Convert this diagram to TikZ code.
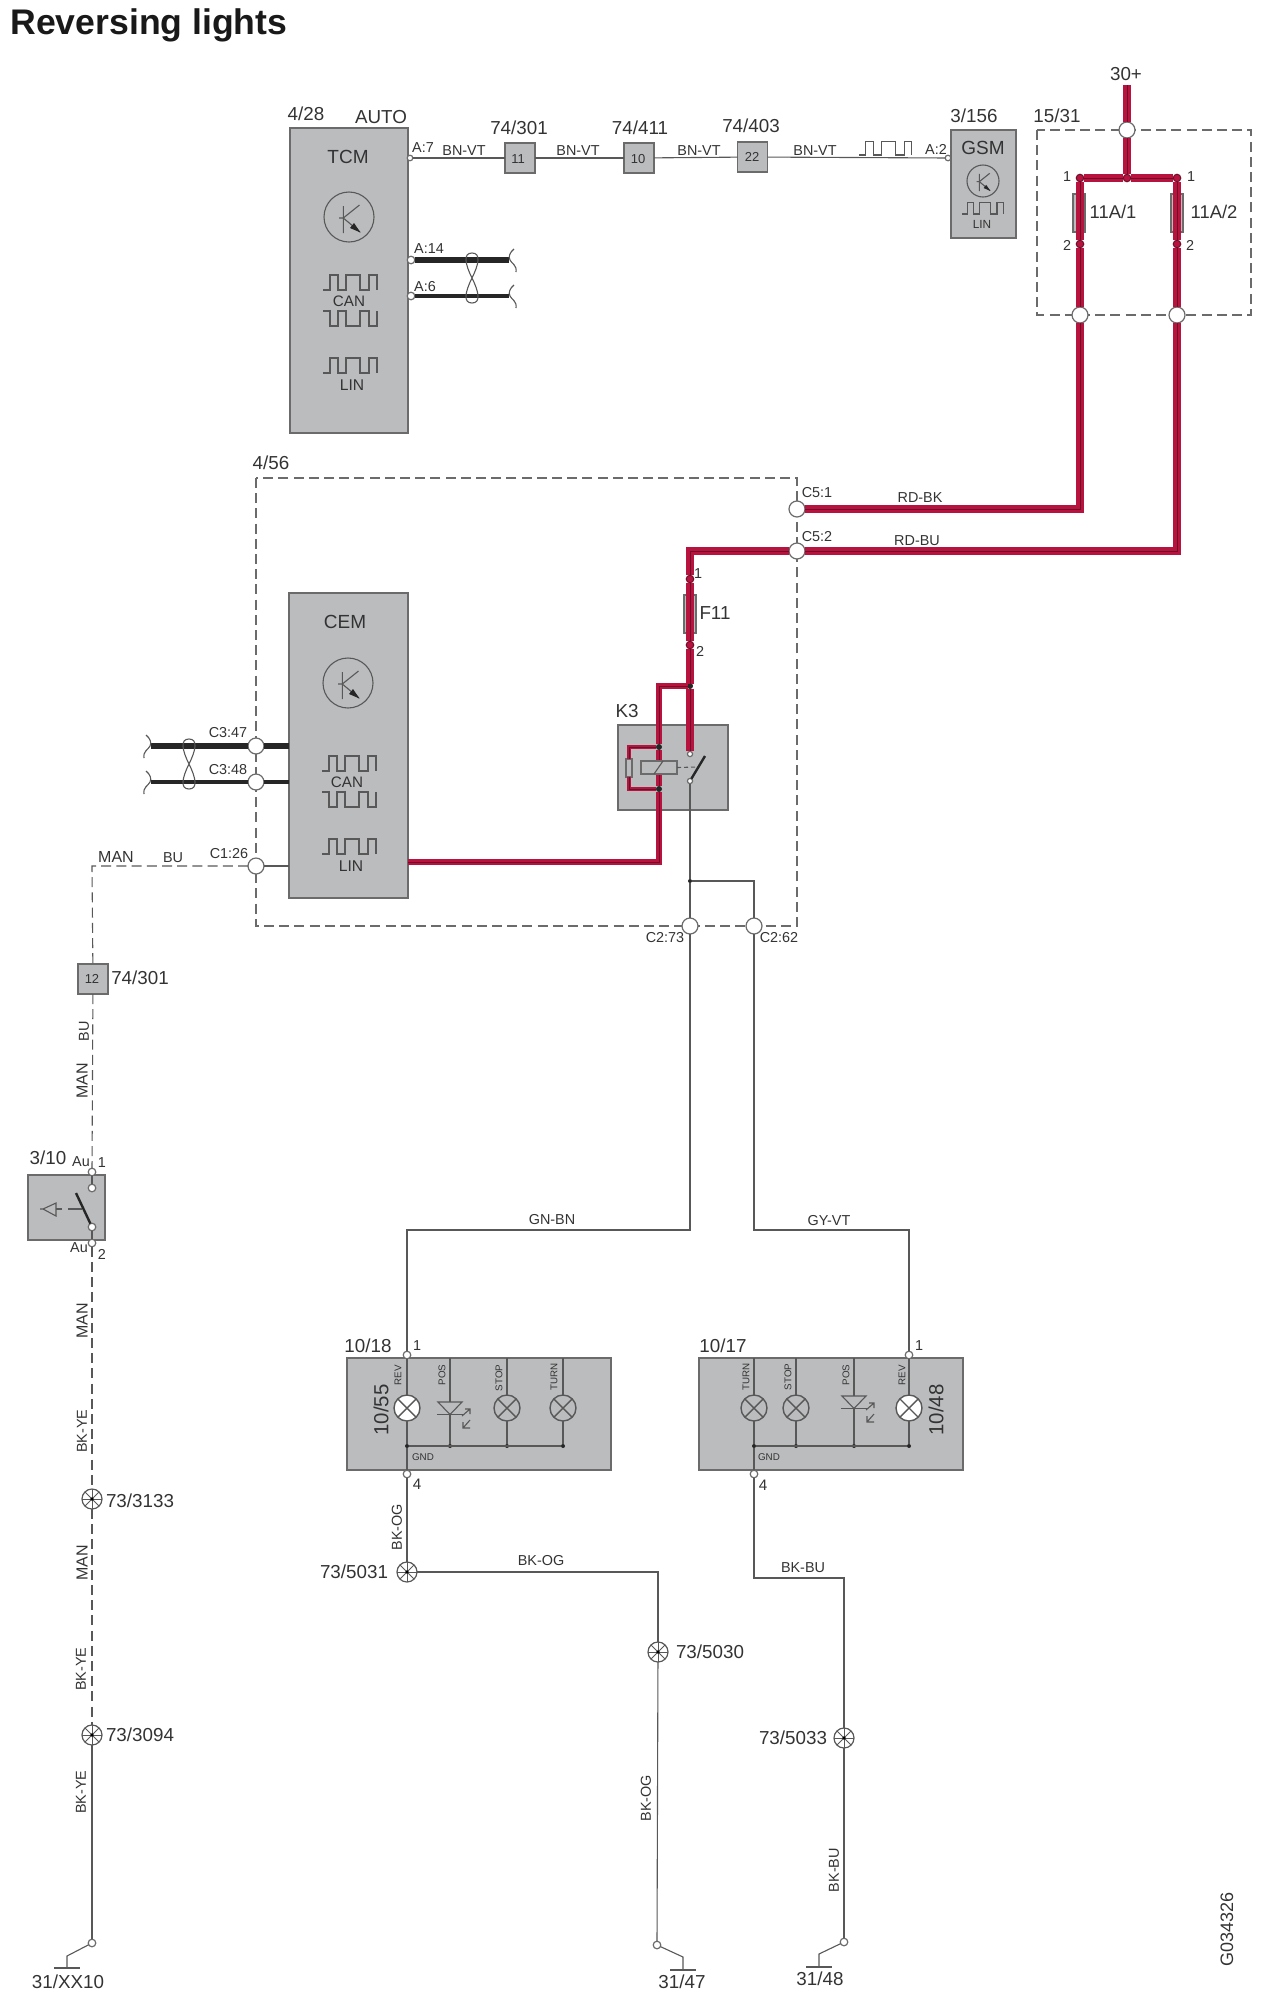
\documentclass[tikz,border=0pt]{standalone}
\usepackage{fontspec}
\setmainfont{Liberation Sans}
\definecolor{boxgray}{HTML}{BBBCBE}
\definecolor{edgegray}{HTML}{6B6B6B}
\definecolor{wiregray}{HTML}{585858}
\definecolor{txtgray}{HTML}{333333}
\definecolor{wirered}{HTML}{B8123F}
\definecolor{wiredark}{HTML}{6E0F2A}
\tikzset{
	unit/.style={rectangle, draw=edgegray, fill=boxgray, line width=0.7pt, inner sep=0pt, outer sep=0pt},
	splitter/.style={unit, minimum size=15pt},
	fusebox/.style={unit, minimum width=6pt, minimum height=19pt},
	conn/.style={circle, draw=edgegray, fill=white, line width=0.6pt, minimum size=8pt, inner sep=0pt, outer sep=0pt},
	pinpt/.style={circle, draw=edgegray, fill=white, line width=0.6pt, minimum size=3.8pt, inner sep=0pt, outer sep=0pt},
	pinred/.style={circle, draw=wiredark, fill=wirered, line width=0.5pt, minimum size=3.8pt, inner sep=0pt, outer sep=0pt},
	dotpt/.style={circle, fill=black!85, minimum size=2pt, inner sep=0pt, outer sep=0pt},
	lamp/.style={circle, draw=wiregray, line width=0.7pt, minimum size=13pt, inner sep=0pt, outer sep=0pt,
		path picture={\draw[wiregray, line width=0.7pt] (path picture bounding box.north west) -- (path picture bounding box.south east)
			(path picture bounding box.north east) -- (path picture bounding box.south west);}},
	splice/.style={circle, draw=wiregray, fill=white, line width=0.6pt, minimum size=10pt, inner sep=0pt, outer sep=0pt,
		path picture={\foreach \a in {0,45,...,315} \draw[wiregray, line width=0.4pt] (path picture bounding box.center) -- ++(\a:12);
			\fill[black] (path picture bounding box.center) circle (1.8);}},
	wire/.style={draw=wiregray, line width=0.55pt},
	dashwire/.style={wire, dash pattern=on 5pt off 2.6pt},
	dashbox/.style={draw=edgegray, line width=0.55pt, dash pattern=on 5pt off 2.6pt},
	sig/.style={draw=wiregray, line width=0.55pt},
	redwire/.style={draw=wirered, line width=3.7pt, postaction={draw=wiredark, line width=0.5pt}},
	redthin/.style={draw=wirered, line width=2.2pt, postaction={draw=wiredark, line width=0.3pt}},
	lbl/.style={text=txtgray, inner sep=0pt, font=\fontsize{9.4}{10}\selectfont},
	lbm/.style={text=txtgray, inner sep=0pt, font=\fontsize{7.2}{8}\selectfont},
	lbs/.style={text=txtgray, inner sep=0pt, font=\fontsize{4.9}{5}\selectfont},
}
\def\waveup[#1](#2,#3){\draw[sig, shift={(#2,#3)}, #1] (0,0) -- (7,0) -- (7,-15) -- (15,-15) -- (15,0) -- (23,0) -- (23,-15) -- (37,-15) -- (37,0) -- (46,0) -- (46,-15) -- (54,-15) -- (54,0);}
\def\wavedn[#1](#2,#3){\draw[sig, shift={(#2,#3)}, #1] (0,0) -- (7,0) -- (7,15) -- (15,15) -- (15,0) -- (23,0) -- (23,15) -- (37,15) -- (37,0) -- (46,0) -- (46,15) -- (54,15) -- (54,0);}
\def\transist[#1](#2,#3){\begin{scope}[shift={(#2,#3)}, #1]
	\draw[sig] (0,0) circle [radius=25];
	\draw[sig] (-5.7,-11) -- (-5.7,16) (-10,1) -- (-5.7,1) (10.5,-12) -- (-5.7,1) -- (11,15);
	\fill[black!85] (11.5,15.5) -- (1,11) -- (5,6) -- cycle;
	\end{scope}}
\def\twist(#1,#2){\draw[sig] (#1,#2-25) .. controls (#1+9,#2-25) and (#1+7,#2-14) .. (#1,#2) .. controls (#1-7,#2+14) and (#1-9,#2+25) .. (#1,#2+25)
	.. controls (#1+9,#2+25) and (#1+7,#2+14) .. (#1,#2) .. controls (#1-7,#2-14) and (#1-9,#2-25) .. (#1,#2-25);}
\def\squig[#1](#2,#3){\draw[sig, shift={(#2,#3)}, #1] (5,-11) .. controls (1,-8) and (-1,-3) .. (1,0) .. controls (3,4) and (8,5) .. (7,12);}
\def\diode(#1,#2){\draw[sig, fill=boxgray] (#1-12,#2) -- (#1+12,#2) -- (#1,#2+12.5) -- cycle;
	\draw[sig] (#1-13,#2+12.5) -- (#1+14,#2+12.5);
	\draw[sig] (#1+12,#2+14) -- (#1+20,#2+7) (#1+15,#2+7) -- (#1+20,#2+7) -- (#1+20,#2+12);
	\draw[sig] (#1+20,#2+18) -- (#1+13,#2+26) (#1+13,#2+20) -- (#1+13,#2+26) -- (#1+20,#2+26);}
\begin{document}
\begin{tikzpicture}[x=0.5pt, y=-0.5pt]
	\useasboundingbox (0,0) rectangle (1264,1998);
	
	%%%%% title %%%%%
	\node[anchor=west, inner sep=0pt, text=black!90, font=\fontsize{17.8}{20}\selectfont\bfseries] (title) at (10,25) {Reversing lights};
	\node[lbm, rotate=90, font=\fontsize{9}{9}\selectfont] (gcode) at (1227,1929) {G034326};
	
	%%%%% units %%%%%
	\draw[dashbox] (1037,130) rectangle (1251,315);
	\draw[dashbox] (256,478) rectangle (797,926);
	
	\node[unit, minimum width=59pt, minimum height=152.5pt] (tcm) at (349,280.5) {};
	\node[unit, minimum width=32.5pt, minimum height=54pt] (gsm) at (983.5,184) {};
	\node[unit, minimum width=59.5pt, minimum height=152.5pt] (cem) at (348.5,745.5) {};
	\node[unit, minimum width=55pt, minimum height=42.5pt] (relay) at (673,767.5) {};
	\node[unit, minimum width=38.5pt, minimum height=32.5pt] (sw) at (66.5,1207.5) {};
	\node[unit, minimum width=132pt, minimum height=56pt] (lighta) at (479,1414) {};
	\node[unit, minimum width=132pt, minimum height=56pt] (lightb) at (831,1414) {};
	
	\node[splitter] (s11) at (520,158) {};
	\node[splitter] (s10) at (639,158) {};
	\node[splitter] (s22) at (752.5,157) {};
	\node[splitter] (s12) at (93,979) {};
	
	\node[fusebox] (fa) at (1079,213) {};
	\node[fusebox] (fb) at (1177,213) {};
	\node[fusebox] (fc) at (690,614) {};
	
	%%%%% pins and connectors %%%%%
	\node[pinpt, minimum size=2.8pt] (a7) at (410,158) {};
	\node[pinpt] (a14) at (411,260) {};
	\node[pinpt] (a6) at (411,296) {};
	\node[pinpt, minimum size=2.8pt] (a2) at (948,158) {};
	
	\node[conn] (c30) at (1127,130) {};
	\node[conn] (cfa) at (1080,315) {};
	\node[conn] (cfb) at (1177,315) {};
	\node[conn] (c51) at (797,509) {};
	\node[conn] (c52) at (797,551) {};
	\node[conn] (c347) at (256,746) {};
	\node[conn] (c348) at (256,782) {};
	\node[conn] (c126) at (256,866) {};
	\node[conn] (c273) at (690,926) {};
	\node[conn] (c262) at (754,926) {};
	
	\node[pinred] (da) at (1080,178) {};
	\node[pinred] (db) at (1127,178) {};
	\node[pinred] (dc) at (1177,178) {};
	\node[pinred] (pa) at (1080,244) {};
	\node[pinred] (pb) at (1177,244) {};
	\node[pinred] (pc) at (690,579) {};
	\node[pinred] (pd) at (690,645) {};
	\node[pinred, fill=black!85, draw=black!85, minimum size=2.5pt] (jk) at (690,686) {};
	\node[dotpt, minimum size=3pt] (jt) at (659,747) {};
	\node[dotpt, minimum size=3pt] (ju) at (659,789) {};
	\node[pinpt, minimum size=2.6pt] (ka) at (690,754) {};
	\node[pinpt, minimum size=2.6pt] (kb) at (690,781) {};
	\node[dotpt] (jg) at (690,881) {};
	
	\node[pinpt] (sw1) at (92,1172) {};
	\node[pinpt] (sw2) at (92,1188) {};
	\node[pinpt] (sw3) at (92,1227) {};
	\node[pinpt] (sw4) at (92,1243) {};
	
	\node[pinpt] (la1) at (407,1355) {};
	\node[pinpt] (la4) at (407,1474) {};
	\node[pinpt] (lb1) at (909,1355) {};
	\node[pinpt] (lb4) at (754,1474) {};
	
	\node[lamp, fill=white] (rvsa) at (407,1408) {};
	\node[lamp] (stpa) at (507,1408) {};
	\node[lamp] (trna) at (563,1408) {};
	\node[lamp] (trnb) at (754,1408) {};
	\node[lamp] (stpb) at (796,1408) {};
	\node[lamp, fill=white] (rvsb) at (909,1408) {};
	
	\node[dotpt] (ba) at (407,1446) {};
	\node[dotpt] (bb) at (450,1446) {};
	\node[dotpt] (bc) at (507,1446) {};
	\node[dotpt] (bd) at (563,1446) {};
	\node[dotpt] (be) at (754,1446) {};
	\node[dotpt] (bf) at (796,1446) {};
	\node[dotpt] (bg) at (854,1446) {};
	\node[dotpt] (bh) at (909,1446) {};
	
	\node[splice] (sp3133) at (92,1499) {};
	\node[splice] (sp3094) at (92,1735) {};
	\node[splice] (sp5031) at (407,1572) {};
	\node[splice] (sp5030) at (658,1652) {};
	\node[splice] (sp5033) at (844,1738) {};
	
	\node[pinpt] (ga) at (92,1943) {};
	\node[pinpt] (gb) at (657,1945) {};
	\node[pinpt] (gc) at (844,1942) {};
	
	\coordinate (top30) at (1127,85);
	\coordinate (a14e) at (509,260);
	\coordinate (a6e) at (509,296);
	\coordinate (c347e) at (151,746);
	\coordinate (c348e) at (151,782);
	\coordinate (linlo) at (659,862);
	\coordinate (mancr) at (92,866);
	\coordinate (gnbn) at (407,1230);
	\coordinate (gyvt) at (909,1230);
	\coordinate (jright) at (754,881);
	\coordinate (ogcr) at (658,1572);
	\coordinate (bucr) at (754,1578);
	\coordinate (bucs) at (844,1578);
	\coordinate (gae) at (67,1956);
	\coordinate (gaf) at (67,1968);
	\coordinate (gbe) at (683,1957);
	\coordinate (gbf) at (683,1970);
	\coordinate (gce) at (819,1954);
	\coordinate (gcf) at (819,1967);
	
	%%%%% thin wires %%%%%
	\draw[wire] (a7) -- (s11);
	\draw[wire] (s11) -- (s10);
	\draw[wire] (s10) -- (s22);
	\draw[wire] (s22) -- (a2);
	
	\draw[wire] (c126) -- (cem.west |- c126);
	\draw[dashwire] (c126) -- (mancr) -- (s12);
	\draw[dashwire] (s12) -- (sw1);
	\draw[wire] (sw1) -- (sw2);
	\draw[wire] (sw3) -- (sw4);
	\draw[dashwire] (sw4) -- (sp3133);
	\draw[dashwire] (sp3133) -- (sp3094);
	\draw[wire] (sp3094) -- (ga);
	
	\draw[wire] (kb) -- (jg);
	\draw[wire] (jg) -- (c273);
	\draw[wire] (jg) -- (jright) -- (c262);
	\draw[wire] (c273) |- (gnbn) -- (la1);
	\draw[wire] (c262) |- (gyvt) -- (lb1);
	
	\draw[wire] (la1) -- (rvsa);
	\draw[wire] (rvsa) -- (ba);
	\draw[wire] (ba) -- (la4);
	\draw[wire] (lighta.north -| bb) -- (bb);
	\draw[wire] (lighta.north -| stpa) -- (stpa);
	\draw[wire] (stpa) -- (bc);
	\draw[wire] (lighta.north -| trna) -- (trna);
	\draw[wire] (trna) -- (bd);
	\draw[wire] (ba) -- (bd);
	
	\draw[wire] (lb1) -- (rvsb);
	\draw[wire] (rvsb) -- (bh);
	\draw[wire] (lightb.north -| bg) -- (bg);
	\draw[wire] (lightb.north -| stpb) -- (stpb);
	\draw[wire] (stpb) -- (bf);
	\draw[wire] (lightb.north -| trnb) -- (trnb);
	\draw[wire] (trnb) -- (be);
	\draw[wire] (be) -- (lb4);
	\draw[wire] (be) -- (bh);
	
	\draw[wire] (la4) -- (sp5031);
	\draw[wire] (sp5031) -- (ogcr) -- (sp5030);
	\draw[wire] (sp5030) -- (gb);
	\draw[wire] (lb4) -- (bucr) -- (bucs) -- (sp5033);
	\draw[wire] (sp5033) -- (gc);
	
	\draw[wire] (ga) -- (gae) -- (gaf);
	\draw[wire] (gb) -- (gbe) -- (gbf);
	\draw[wire] (gc) -- (gce) -- (gcf);
	\draw[wire] (gaf) ++(-13,0) -- ++(26,0);
	\draw[wire] (gbf) ++(-13,0) -- ++(26,0);
	\draw[wire] (gcf) ++(-13,0) -- ++(26,0);
	
	%%%%% bus wires %%%%%
	\draw[draw=black!85, line width=3pt] (a14) -- (a14e);
	\draw[draw=black!85, line width=2pt] (a6) -- (a6e);
	\draw[draw=black!85, line width=3pt] (c347e) -- (c347);
	\draw[draw=black!85, line width=3pt] (c347) -- (cem.west |- c347);
	\draw[draw=black!85, line width=2pt] (c348e) -- (c348);
	\draw[draw=black!85, line width=2pt] (c348) -- (cem.west |- c348);
	\twist(472,278);
	\twist(189,764);
	\squig[](509,260);
	\squig[](509,296);
	\squig[xscale=-1](151,746);
	\squig[xscale=-1](151,782);
	
	%%%%% red wires %%%%%
	\draw[redwire] (top30) -- (c30);
	\draw[redwire] (c30) -- (db);
	\draw[redwire] (da) -- (db);
	\draw[redwire] (db) -- (dc);
	\draw[redwire] (da) -- (pa);
	\draw[redwire] (dc) -- (pb);
	\draw[redwire] (pa) -- (cfa);
	\draw[redwire] (pb) -- (cfb);
	\draw[redwire] (cfa) |- (c51);
	\draw[redwire] (cfb) |- (c52);
	\draw[redwire] (c52) -| (pc);
	\draw[redwire] (pc) -- (pd);
	\draw[redwire] (pd) -- (jk);
	\draw[redwire] (jk) -- (ka);
	\draw[redwire, line width=3pt] (jk) -| (jt) -- (ju) -- (linlo) -- (cem.east |- linlo);
	\node[fusebox, minimum width=3pt, minimum height=9pt] (res) at (629,768) {};
	\draw[redthin] (jt) -| (res.north);
	\draw[redthin] (ju) -| (res.south);
	\node[unit, minimum width=18pt, minimum height=6.5pt] (coil) at (659,767.5) {};
	\draw[sig] (654,774) -- (663,761);
	\draw[sig, dashed, dash pattern=on 2pt off 1.5pt] (coil.east) -- (698,767);
	\draw[draw=black!85, line width=1.2pt] (kb) -- (705,756);
	
	%%%%% symbols %%%%%
	\transist[](349,217)
	\transist[](348,683)
	\transist[scale=0.64](983,181)
	\waveup[](323,290)
	\wavedn[](323,311)
	\waveup[](323,373)
	\waveup[](322,771)
	\wavedn[](322,792)
	\waveup[](322,854)
	\waveup[xscale=0.76, yscale=0.76](962,214)
	\waveup[xscale=0.98, yscale=0.93](859,155)
	\diode(450,1402)
	\diode(854,1396)
	\draw[draw=black!85, line width=1.2pt] (sw3) -- (76,1193);
	\draw[sig, dash pattern=on 7pt off 3pt] (82,1209) -- (56,1209);
	\draw[sig] (40,1209) -- (43,1209) -- (56,1203) -- (56,1216) -- (43,1209);
	
	%%%%% labels %%%%%
	\node[lbl] (n428) at (306,114) {4/28};
	\node[lbl] (nauto) at (381,117) {AUTO};
	\node[lbl, font=\fontsize{9.5}{10}\selectfont] (ntcm) at (348,157) {TCM};
	\node[lbm, font=\fontsize{7.6}{8}\selectfont] (ncana) at (349,301) {CAN};
	\node[lbm, font=\fontsize{7.8}{8}\selectfont] (nlina) at (352,385) {LIN};
	\node[lbl] (n301) at (519,128) {74/301};
	\node[lbl] (n411) at (640,128) {74/411};
	\node[lbl] (n403) at (751,126) {74/403};
	\node[lbl] (n156) at (974,116) {3/156};
	\node[lbl] (n1531) at (1057,116) {15/31};
	\node[lbl] (n30) at (1126,74) {30+};
	\node[lbl, font=\fontsize{9.5}{10}\selectfont] (ngsm) at (983,148) {GSM};
	\node[lbm, font=\fontsize{5.9}{6}\selectfont] (nling) at (982,224) {LIN};
	\node[lbl, font=\fontsize{9.2}{10}\selectfont] (n11a) at (1113,212) {11A/1};
	\node[lbl, font=\fontsize{9.2}{10}\selectfont] (n11b) at (1214,212) {11A/2};
	
	\node[lbm] (n11) at (518,159) [font=\fontsize{6.5}{7}\selectfont] {11};
	\node[lbm] (n10) at (638,159) [font=\fontsize{6.5}{7}\selectfont] {10};
	\node[lbm] (n22) at (752,157) [font=\fontsize{6.5}{7}\selectfont] {22};
	\node[lbm] (n12) at (92,979) [font=\fontsize{6.5}{7}\selectfont] {12};
	
	\node[lbm] (na7) at (423,148) {A:7};
	\node[lbm] (na14) at (429,249) {A:14};
	\node[lbm] (na6) at (425,287) {A:6};
	\node[lbm] (na2) at (936,149) {A:2};
	\node[lbm] (nbv1) at (464,151) {BN-VT};
	\node[lbm] (nbv2) at (578,151) {BN-VT};
	\node[lbm] (nbv3) at (699,151) {BN-VT};
	\node[lbm] (nbv4) at (815,151) {BN-VT};
	\node[lbm] (nt1) at (1067,177) {1};
	\node[lbm] (nt2) at (1191,177) {1};
	\node[lbm] (nt3) at (1067,245) {2};
	\node[lbm] (nt4) at (1190,245) {2};
	
	\node[lbl] (n456) at (271,463) {4/56};
	\node[lbm] (nc51) at (817,493) {C5:1};
	\node[lbm] (nc52) at (817,537) {C5:2};
	\node[lbm] (nrb) at (920,498) {RD-BK};
	\node[lbm] (nru) at (917,541) {RD-BU};
	\node[lbm] (nf1) at (698,574) {1};
	\node[lbm] (nf2) at (700,651) {2};
	\node[lbl] (nf11) at (715,613) {F11};
	\node[lbl] (nk3) at (627,711) {K3};
	\node[lbm] (nc273) at (665,938) {C2:73};
	\node[lbm] (nc262) at (779,938) {C2:62};
	
	\node[lbl, font=\fontsize{9.5}{10}\selectfont] (ncem) at (345,622) {CEM};
	\node[lbm, font=\fontsize{7.6}{8}\selectfont] (ncanb) at (347,782) {CAN};
	\node[lbm, font=\fontsize{7.8}{8}\selectfont] (nlinb) at (351,866) {LIN};
	\node[lbm] (nc347) at (228,733) {C3:47};
	\node[lbm] (nc348) at (228,770) {C3:48};
	\node[lbm] (nc126) at (229,854) {C1:26};
	\node[lbm, font=\fontsize{8}{9}\selectfont] (nman1) at (116,857) {MAN};
	\node[lbm] (nbu1) at (173,858) {BU};
	
	\node[lbl] (n3012) at (140,978) {74/301};
	\node[lbm, rotate=90] (nbu2) at (84,1031) {BU};
	\node[lbm, rotate=90, font=\fontsize{8}{9}\selectfont] (nman2) at (82,1081) {MAN};
	\node[lbl] (n310) at (48,1158) {3/10};
	\node[lbm] (nau1) at (81,1162) {Au};
	\node[lbm] (nsw1) at (102,1163) {1};
	\node[lbm] (nau2) at (79,1248) {Au};
	\node[lbm] (nsw2) at (102,1254) {2};
	\node[lbm, rotate=90, font=\fontsize{8}{9}\selectfont] (nman3) at (82,1321) {MAN};
	\node[lbm, rotate=90] (nby1) at (82,1431) {BK-YE};
	\node[lbl] (n3133) at (140,1501) {73/3133};
	\node[lbm, rotate=90, font=\fontsize{8}{9}\selectfont] (nman4) at (82,1563) {MAN};
	\node[lbm, rotate=90] (nby2) at (81,1669) {BK-YE};
	\node[lbl] (n3094) at (140,1735) {73/3094};
	\node[lbm, rotate=90] (nby3) at (81,1792) {BK-YE};
	\node[lbl] (nxx) at (68,1982) {31/XX10};
	
	\node[lbm] (ngb) at (552,1220) {GN-BN};
	\node[lbm] (ngv) at (829,1221) {GY-VT};
	
	\node[lbl] (n1018) at (368,1346) {10/18};
	\node[lbm] (nla1) at (417,1346) {1};
	\node[lbs, rotate=90] (nrv1) at (398,1375) {REV};
	\node[lbs, rotate=90] (nps1) at (442,1375) {POS};
	\node[lbs, rotate=90] (nst1) at (499,1378) {STOP};
	\node[lbs, rotate=90] (ntn1) at (554,1377) {TURN};
	\node[lbl, rotate=90, font=\fontsize{10.2}{11}\selectfont] (n1055) at (381,1410) {10/55};
	\node[lbs] (ngnd1) at (423,1457) {GND};
	\node[lbm, font=\fontsize{7.6}{8}\selectfont] (nla4) at (417,1484) {4};
	
	\node[lbl] (n1017) at (723,1346) {10/17};
	\node[lbm] (nlb1) at (919,1346) {1};
	\node[lbs, rotate=90] (ntn2) at (746,1377) {TURN};
	\node[lbs, rotate=90] (nst2) at (788,1377) {STOP};
	\node[lbs, rotate=90] (nps2) at (846,1375) {POS};
	\node[lbs, rotate=90] (nrv2) at (902,1375) {REV};
	\node[lbl, rotate=90, font=\fontsize{10.2}{11}\selectfont] (n1048) at (936,1410) {10/48};
	\node[lbs] (ngnd2) at (769,1457) {GND};
	\node[lbm, font=\fontsize{7.6}{8}\selectfont] (nlb4) at (763,1485) {4};
	
	\node[lbm, rotate=90] (nbo1) at (397,1527) {BK-OG};
	\node[lbm] (nbo2) at (541,1561) {BK-OG};
	\node[lbl] (n5031) at (354,1572) {73/5031};
	\node[lbl] (n5030) at (710,1652) {73/5030};
	\node[lbm, rotate=90] (nbo3) at (646,1798) {BK-OG};
	\node[lbm] (nbb1) at (803,1568) {BK-BU};
	\node[lbl] (n5033) at (793,1738) {73/5033};
	\node[lbm, rotate=90] (nbb2) at (834,1870) {BK-BU};
	\node[lbl] (n3147) at (682,1982) {31/47};
	\node[lbl] (n3148) at (820,1979) {31/48};
\end{tikzpicture}
\end{document}
